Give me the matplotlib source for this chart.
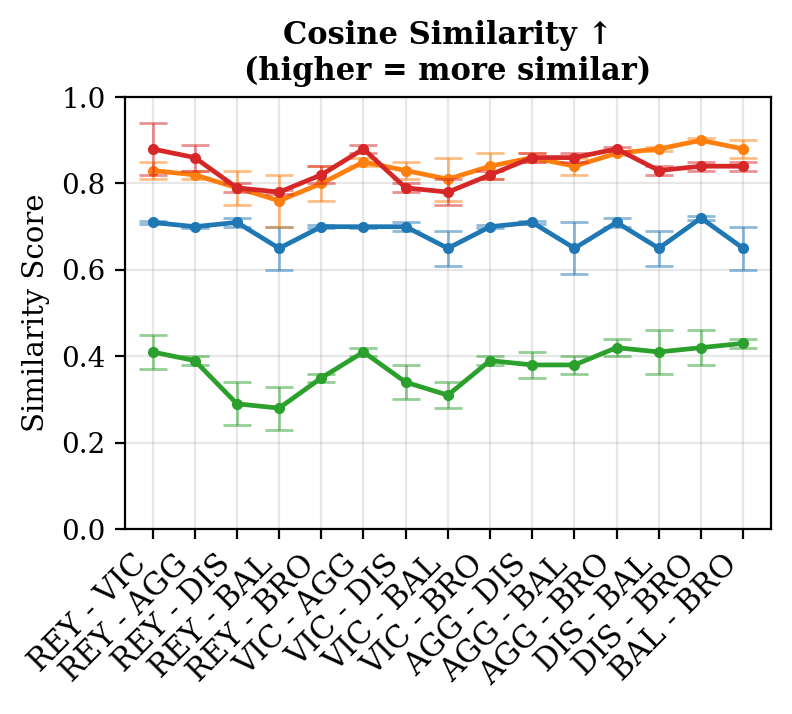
import matplotlib
matplotlib.use("Agg")
import matplotlib.pyplot as plt
import numpy as np

plt.rcParams['font.family'] = ['DejaVu Serif']

pairs = ["REY - VIC", "REY - AGG", "REY - DIS", "REY - BAL", "REY - BRO",
         "VIC - AGG", "VIC - DIS", "VIC - BAL", "VIC - BRO", "AGG - DIS",
         "AGG - BAL", "AGG - BRO", "DIS - BAL", "DIS - BRO", "BAL - BRO"]

blue_mean = [0.71, 0.70, 0.71, 0.65, 0.70, 0.70, 0.70, 0.65, 0.70, 0.71, 0.65, 0.71, 0.65, 0.72, 0.65]
blue_err = [0.003, 0.002, 0.01, 0.05, 0.004, 0.002, 0.01, 0.04, 0.004, 0.004, 0.06, 0.01, 0.04, 0.004, 0.05]

orange_mean = [0.83, 0.82, 0.79, 0.76, 0.80, 0.85, 0.83, 0.81, 0.84, 0.86, 0.84, 0.87, 0.88, 0.90, 0.88]
orange_err = [0.02, 0.01, 0.04, 0.06, 0.04, 0.01, 0.02, 0.05, 0.03, 0.01, 0.02, 0.005, 0.005, 0.005, 0.02]

red_mean = [0.88, 0.86, 0.79, 0.78, 0.82, 0.88, 0.79, 0.78, 0.82, 0.86, 0.86, 0.88, 0.83, 0.84, 0.84]
red_err = [0.06, 0.03, 0.01, 0.005, 0.02, 0.01, 0.01, 0.03, 0.01, 0.01, 0.01, 0.005, 0.01, 0.01, 0.01]

green_mean = [0.41, 0.39, 0.29, 0.28, 0.35, 0.41, 0.34, 0.31, 0.39, 0.38, 0.38, 0.42, 0.41, 0.42, 0.43]
green_err = [0.04, 0.01, 0.05, 0.05, 0.01, 0.01, 0.04, 0.03, 0.01, 0.03, 0.02, 0.02, 0.05, 0.04, 0.01]

series = [
    (blue_mean, blue_err, "#1f77b4"),
    (orange_mean, orange_err, "#ff7f0e"),
    (green_mean, green_err, "#2ca02c"),
    (red_mean, red_err, "#d62728"),
]

fig = plt.figure(figsize=(3.96, 3.57), dpi=200)
ax = fig.add_axes([0.158, 0.259, 0.815, 0.605])
x = np.arange(len(pairs))
for mean, err, col in series:
    ax.errorbar(x, mean, yerr=err, fmt='none', ecolor=col, alpha=0.5,
                capsize=5, elinewidth=1.0, capthick=1.0)
    ax.plot(x, mean, '-o', color=col, lw=1.7, markersize=3)

ax.set_ylim(0, 1.0)
ax.set_xlim(-0.65, 14.65)
ax.set_yticks([0, 0.2, 0.4, 0.6, 0.8, 1.0])
ax.set_xticks(x)
ax.set_xticklabels(pairs, rotation=45, ha='right', fontsize=11)
ax.tick_params(axis='y', labelsize=10)
ax.grid(True, alpha=0.3)
ax.set_ylabel("Similarity Score", fontsize=10.5)
ax.set_title("Cosine Similarity \u2191\n(higher = more similar)", fontsize=11, fontweight='bold')
fig.savefig("out.png", dpi=200)
